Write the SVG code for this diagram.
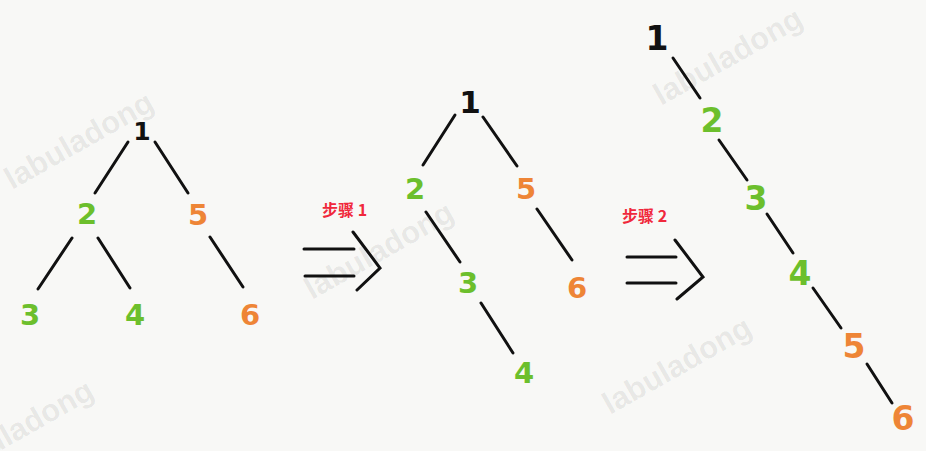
<svg xmlns="http://www.w3.org/2000/svg" width="926" height="451" viewBox="0 0 926 451">
<style>
.wm{font-family:"Liberation Sans",Arial,sans-serif;font-weight:bold;font-size:31px;fill:#000;fill-opacity:0.075}
.n{font-family:"DejaVu Sans",sans-serif;font-weight:bold;text-anchor:middle}
.k{fill:#111}
.g{fill:#6cbf2c}
.o{fill:#ee8536}
.s29{font-size:29px}
.s25{font-size:25px}
.s31{font-size:31px}
.s33{font-size:33px}
.e line,.e polyline{stroke:#111;stroke-width:3;stroke-linecap:round;stroke-linejoin:miter;fill:none}
.lab{font-family:"Noto Sans CJK SC","Liberation Sans",sans-serif;font-weight:bold;font-size:16px;fill:#f0283c}
</style>
<rect width="926" height="451" fill="#f8f8f6"/>
<g id="watermarks">
<text class="wm" transform="translate(12,190) rotate(-29.5)">labuladong</text>
<text class="wm" transform="translate(312,300) rotate(-29.5)">labuladong</text>
<text class="wm" transform="translate(661,106) rotate(-29.5)">labuladong</text>
<text class="wm" transform="translate(610,415) rotate(-29.5)">labuladong</text>
<text class="wm" transform="translate(-48,478) rotate(-29.5)">labuladong</text>
</g>
<g id="connectors" class="e">
<line x1="128" y1="142" x2="95" y2="193"/>
<line x1="155" y1="142" x2="188" y2="193"/>
<line x1="72" y1="238" x2="38" y2="289"/>
<line x1="98" y1="238" x2="130" y2="288"/>
<line x1="210" y1="237" x2="243" y2="287"/>
<line x1="455" y1="115" x2="423" y2="165"/>
<line x1="483" y1="117" x2="517" y2="166"/>
<line x1="426" y1="212" x2="460" y2="262"/>
<line x1="537" y1="209" x2="572" y2="260"/>
<line x1="481" y1="303" x2="513" y2="353"/>
<line x1="673" y1="58" x2="700" y2="98"/>
<line x1="719" y1="140" x2="747" y2="180"/>
<line x1="767" y1="214" x2="793" y2="253"/>
<line x1="813" y1="288" x2="841" y2="328"/>
<line x1="867" y1="364" x2="892" y2="403"/>
</g>
<g id="step1">
<g class="e">
<line x1="304" y1="249" x2="354" y2="249"/>
<line x1="305" y1="276" x2="354" y2="276"/>
<polyline points="353,232 380,268 357,290"/>
</g>
<text class="lab" x="322" y="216">步骤 1</text>
</g>
<g id="step2">
<g class="e">
<line x1="627" y1="257" x2="676" y2="257"/>
<line x1="627" y1="283" x2="676" y2="283"/>
<polyline points="675,240 703,277 677,299"/>
</g>
<text class="lab" x="622" y="222">步骤 2</text>
</g>
<g id="tree1">
<g id="t1n1"><text class="n k s25" x="142" y="140">1</text></g>
<g id="t1n2"><text class="n g s29" x="87" y="224">2</text></g>
<g id="t1n5"><text class="n o s29" x="198" y="225">5</text></g>
<g id="t1n3"><text class="n g s29" x="30" y="325">3</text></g>
<g id="t1n4"><text class="n g s29" x="135" y="325">4</text></g>
<g id="t1n6"><text class="n o s29" x="250" y="325">6</text></g>
</g>
<g id="tree2">
<g id="t2n1"><text class="n k s31" x="470" y="113">1</text></g>
<g id="t2n2"><text class="n g s29" x="415" y="199">2</text></g>
<g id="t2n5"><text class="n o s29" x="526" y="199">5</text></g>
<g id="t2n3"><text class="n g s29" x="468" y="293">3</text></g>
<g id="t2n6"><text class="n o s29" x="577" y="298">6</text></g>
<g id="t2n4"><text class="n g s29" x="524" y="383">4</text></g>
</g>
<g id="tree3">
<g id="t3n1"><text class="n k s33" x="657" y="50">1</text></g>
<g id="t3n2"><text class="n g s33" x="712" y="132">2</text></g>
<g id="t3n3"><text class="n g s33" x="756" y="210">3</text></g>
<g id="t3n4"><text class="n g s33" x="800" y="285">4</text></g>
<g id="t3n5"><text class="n o s33" x="854" y="358">5</text></g>
<g id="t3n6"><text class="n o s33" x="903" y="430">6</text></g>
</g>
</svg>
